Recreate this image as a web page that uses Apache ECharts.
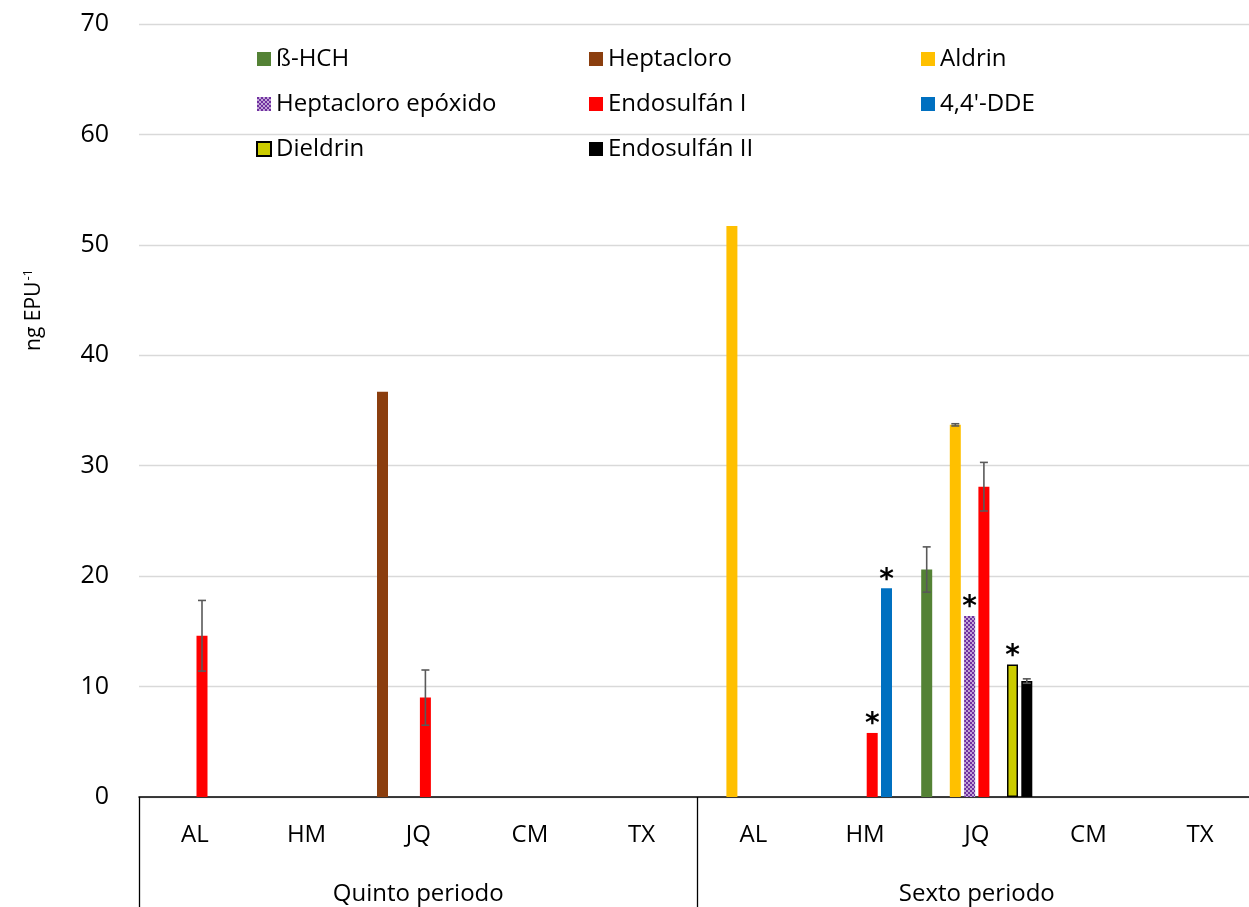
<!DOCTYPE html>
<html>
<head>
<meta charset="utf-8">
<title>ng EPU-1</title>
<script src="https://cdn.jsdelivr.net/npm/echarts@6/dist/echarts.min.js"></script>
<style>
  html, body { margin: 0; padding: 0; background: #fff; }
  #chart { width: 1249px; height: 907px; }
</style>
</head>
<body>
<div id="chart"></div>
<script>
// categorias (dos periodos x cinco sitios)
const sitios = ['AL', 'HM', 'JQ', 'CM', 'TX', 'AL', 'HM', 'JQ', 'CM', 'TX'];
const periodos = ['Quinto periodo', 'Sexto periodo'];

const nombres = ['ß-HCH', 'Heptacloro', 'Aldrin', 'Heptacloro epóxido', 'Endosulfán I', '4,4\'-DDE', 'Dieldrin', 'Endosulfán II'];

// valores medios
const bHCH       = [null, null, null, null, null, null, null, 20.6, null, null];
const heptacloro = [null, null, 36.7, null, null, null, null, null, null, null];
const aldrin     = [null, null, null, null, null, 51.7, null, 33.7, null, null];
const heptEpox   = [null, null, null, null, null, null, null, 16.4, null, null];
const endoI      = [14.6, null, 9.0, null, null, null, 5.8, 28.1, null, null];
const dde        = [null, null, null, null, null, null, 18.9, null, null, null];
const dieldrin   = [null, null, null, null, null, null, null, 12.0, null, null];
const endoII     = [null, null, null, null, null, null, null, 10.5, null, null];

// desviaciones (barras de error)
const bHCHErr   = [null, null, null, null, null, null, null, 2.05, null, null];
const aldrinErr = [null, null, null, null, null, null, null, 0.1, null, null];
const endoIErr  = [3.2, null, 2.5, null, null, null, null, 2.2, null, null];
const endoIIErr = [null, null, null, null, null, null, null, 0.2, null, null];

// asteriscos (indice de categoria)
const endoIStar    = [6];
const ddeStar      = [6];
const heptEpoxStar = [7];
const dieldrinStar = [7];

const valores = [bHCH, heptacloro, aldrin, heptEpox, endoI, dde, dieldrin, endoII];
const errores = [bHCHErr, null, aldrinErr, null, endoIErr, null, null, endoIIErr];
const estrellas = [[], [], [], heptEpoxStar, endoIStar, ddeStar, dieldrinStar, []];
const colores = ['#548235', '#8B3E0E', '#FFC000', '#7030A0', '#FF0000', '#0070C0', '#CCCC00', '#000000'];

const FONT = '"Open Sans", sans-serif';
const BAR_W = 11;
const BAR_GAP = 3.3;

const chart = echarts.init(document.getElementById('chart'));

const barSeries = nombres.map((name, i) => {
  const itemStyle = { color: colores[i] };
  if (name === 'Dieldrin') {
    itemStyle.borderColor = '#000';
    itemStyle.borderWidth = 1.5;
  }
  if (name === 'Heptacloro epóxido') {
    // trama de puntos blancos sobre morado
    itemStyle.decal = {
      symbol: 'circle',
      symbolSize: 0.9,
      color: 'rgba(255,255,255,0.85)',
      dashArrayX: [[2, 2], [0, 2, 2, 0]],
      dashArrayY: [2, 0]
    };
  }
  return {
    name: name,
    type: 'bar',
    barWidth: BAR_W,
    barGap: '30%',
    itemStyle: itemStyle,
    emphasis: { disabled: true },
    data: valores[i].map((v, k) => {
      if (estrellas[i].indexOf(k) >= 0) {
        return {
          value: v,
          label: {
            show: true,
            position: 'top',
            distance: -6,
            formatter: '*',
            fontSize: 28,
            fontWeight: 'bold',
            fontFamily: 'DejaVu Sans',
            color: '#000'
          }
        };
      }
      return v;
    })
  };
});

// puntos de las barras de error
const errData = [];
errores.forEach((arr, i) => {
  if (!arr) return;
  arr.forEach((e, k) => {
    if (e != null) errData.push([k, valores[i][k], e, i]);
  });
});

const errSeries = {
  type: 'custom',
  name: 'error',
  z: 5,
  silent: true,
  encode: { x: 0, y: 1 },
  data: errData,
  renderItem: function (params, api) {
    const k = api.value(0);
    const v = api.value(1);
    const e = api.value(2);
    const idx = api.value(3);
    const dx = (idx - 3.5) * (BAR_W + BAR_GAP);
    const hi = api.coord([k, v + e]);
    const lo = api.coord([k, v - e]);
    const x = hi[0] + dx;
    const cap = 4;
    const style = { stroke: '#595959', lineWidth: 1.6 };
    return {
      type: 'group',
      children: [
        { type: 'line', shape: { x1: x, y1: hi[1], x2: x, y2: lo[1] }, style: style },
        { type: 'line', shape: { x1: x - cap, y1: hi[1], x2: x + cap, y2: hi[1] }, style: style },
        { type: 'line', shape: { x1: x - cap, y1: lo[1], x2: x + cap, y2: lo[1] }, style: style }
      ]
    };
  }
};

const legendBase = {
  orient: 'vertical',
  itemWidth: 14,
  itemHeight: 14,
  itemGap: 21,
  icon: 'rect',
  selectedMode: false,
  textStyle: { fontSize: 24, color: '#000', fontFamily: FONT, padding: [0, 0, 0, 0] }
};

const option = {
  animation: false,
  backgroundColor: '#fff',
  grid: { left: 139, top: 24, width: 1117, height: 773, outerBoundsMode: 'none', containLabel: false },
  legend: [
    Object.assign({}, legendBase, { left: 251, top: 42, data: ['ß-HCH', 'Heptacloro epóxido', 'Dieldrin'] }),
    Object.assign({}, legendBase, { left: 584, top: 42, data: ['Heptacloro', 'Endosulfán I', 'Endosulfán II'] }),
    Object.assign({}, legendBase, { left: 916, top: 42, data: ['Aldrin', '4,4\'-DDE'] })
  ],
  graphic: [{
    type: 'text',
    left: 22,
    top: 269,
    rotation: Math.PI / 2,
    style: {
      text: '{a|ng EPU}{b|-1}',
      rich: {
        a: { fontSize: 21, fontFamily: FONT, fill: '#000', verticalAlign: 'bottom' },
        b: { fontSize: 13, fontFamily: FONT, fill: '#000', verticalAlign: 'top', padding: [0, 0, 10, 1] }
      }
    }
  }],
  xAxis: [
    {
      type: 'category',
      data: sitios,
      position: 'bottom',
      axisLine: { show: true, lineStyle: { color: '#000', width: 1.5 } },
      axisTick: { show: false },
      axisLabel: { fontSize: 24, color: '#000', fontFamily: FONT, margin: 26, interval: 0 },
      splitLine: { show: false }
    },
    {
      type: 'category',
      data: periodos,
      position: 'bottom',
      axisLine: { show: false },
      axisTick: { show: true, length: 112, interval: 0, lineStyle: { color: '#000', width: 1.3 } },
      axisLabel: { fontSize: 24, color: '#000', fontFamily: FONT, margin: 85, interval: 0 },
      splitLine: { show: false }
    }
  ],
  yAxis: {
    type: 'value',
    min: 0,
    max: 70,
    interval: 10,
    axisLine: { show: false },
    axisTick: { show: false },
    axisLabel: { fontSize: 25, color: '#000', fontFamily: FONT, margin: 30 },
    splitLine: { lineStyle: { color: '#d9d9d9', width: 1.3 } }
  },
  series: barSeries.concat([errSeries])
};

chart.setOption(option);
</script>
</body>
</html>
